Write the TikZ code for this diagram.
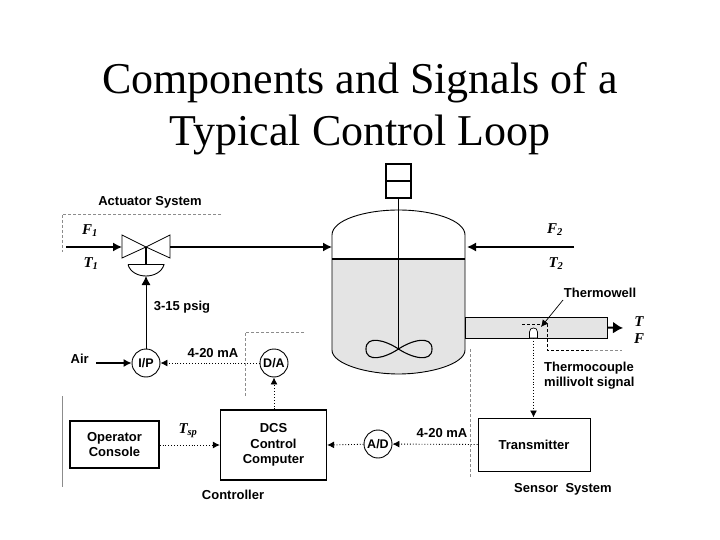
\documentclass[tikz,border=0pt]{standalone}
\usepackage{fontspec}
\setmainfont{Liberation Serif}
\setsansfont{Liberation Sans}
\definecolor{liquidgray}{HTML}{E4E4E4}
\definecolor{zonegray}{HTML}{8C8C8C}
\usetikzlibrary{arrows.meta,positioning,calc}

\begin{document}
\begin{tikzpicture}[
  x=1pt, y=-1pt,
  titletext/.style={font=\fontsize{44}{52}\selectfont, align=center},
  tag/.style={font=\fontsize{13}{15}\selectfont\sffamily\bfseries, align=center, inner sep=0pt},
  var/.style={font=\fontsize{15}{16}\selectfont\bfseries\itshape, inner sep=0pt},
  blockbox/.style={rectangle, draw, line width=1.3pt, align=center, inner sep=0pt, font=\fontsize{13}{15.5}\selectfont\sffamily\bfseries},
  convcircle/.style={circle, draw, line width=0.9pt, minimum size=28pt, inner sep=0pt, font=\fontsize{12.5}{14}\selectfont\sffamily\bfseries},
  flowline/.style={line width=1.4pt, -{Latex[length=9pt,width=9pt]}},
  signalline/.style={line width=0.9pt, dotted, -{Latex[length=7pt,width=7pt]}},
  zoneline/.style={zonegray, line width=0.6pt, densely dashed},
]
\useasboundingbox (0,0) rectangle (720,540);
\node[titletext] (title) at (360,109) {Components and Signals of a\\Typical Control Loop};

% vessel
\fill[liquidgray] (332,259) -- (465,259) -- (465,350) .. controls (465,364) and (430,374) .. (398.5,374) .. controls (367,374) and (332,364) .. (332,350) -- cycle;
\draw[line width=0.9pt] (332,350) -- (332,235) .. controls (332,220) and (365,210) .. (398.5,210) .. controls (432,210) and (465,220) .. (465,235) -- (465,350) .. controls (465,364) and (430,374) .. (398.5,374) .. controls (367,374) and (332,364) .. (332,350) -- cycle;
\draw[line width=1.3pt] (332,259) -- (465,259);

% agitator
\node[rectangle, draw, line width=1.3pt, minimum width=25pt, minimum height=34pt, inner sep=0pt] (motor) at (398.5,181) {};
\draw[line width=1.3pt] (motor.west) -- (motor.east);
\coordinate (hub) at (398.5,349);
\draw[line width=0.7pt] (motor.south) -- (hub);
\draw[line width=1.1pt] (hub) .. controls (385,340) and (366,335) .. (366,349) .. controls (366,363) and (385,358) .. (hub) .. controls (412,340) and (432,335) .. (432,349) .. controls (432,363) and (412,358) .. (hub);

% valve and actuator
\coordinate (valve) at (146,247);
\draw[line width=0.8pt, fill=white] (valve) -- (122,235) -- (122,258) -- cycle;
\draw[line width=0.8pt, fill=white] (valve) -- (170,235) -- (170,258) -- cycle;
\coordinate (diaphragm) at (146,264.5);
\draw[line width=1.3pt] (valve) -- (diaphragm);
\draw[line width=0.9pt] (128,264.5) -- (164,264.5) .. controls (162,272) and (154,276) .. (146,276) .. controls (138,276) and (130,272) .. (128,264.5);
\coordinate (diaphragmb) at (146,276);

% streams
\coordinate (feedin) at (66,247);
\coordinate (valveleft) at (122,247);
\coordinate (valveright) at (170,247);
\coordinate (vesselin) at (332,247);
\coordinate (recyclein) at (574,247);
\coordinate (vesselright) at (467,247);
\draw[flowline] (feedin) -- (valveleft);
\draw[flowline] (valveright) -- (vesselin);
\draw[flowline] (recyclein) -- (vesselright);
\node[var] (fa) at (90,231) {F\textsubscript{1}};
\node[var] (ta) at (91,264) {T\textsubscript{1}};
\node[var] (fb) at (555,230) {F\textsubscript{2}};
\node[var] (tb) at (556,264) {T\textsubscript{2}};

% outlet pipe and thermowell
\node[rectangle, draw, line width=0.9pt, fill=liquidgray, minimum width=142pt, minimum height=21pt, inner sep=0pt] (pipe) at (536,327.5) {};
\coordinate (outlet) at (623,328);
\draw[line width=2pt, -{Latex[length=10pt,width=12pt]}] (pipe.east) -- (outlet);
\node[var] (tout) at (639,322) {T};
\node[var] (fout) at (639,339) {F};
\draw[line width=0.7pt, fill=white] (529.5,338) -- (529.5,332) .. controls (529.5,329) and (531.5,328) .. (533.5,328) .. controls (535.5,328) and (537.5,329) .. (537.5,332) -- (537.5,338) -- cycle;
\coordinate (well) at (533.5,338);
\draw[line width=0.7pt, densely dashed] (522,324) -- (547,324) -- (547,350) -- (590,350);
\draw[line width=0.7pt, zonegray, densely dashed] (590,350) -- (622,350);
\node[tag] (wellname) at (600,293) {Thermowell};
\coordinate (welltip) at (541,327);
\draw[line width=0.7pt, -{Latex[length=7pt,width=7pt]}] (563,300) -- (welltip);
\node[tag, align=left, anchor=north west] (tclabel) at (544,362) {Thermocouple\\millivolt signal};

% signal chain
\node[convcircle] (ip) at (146,363) {I/P};
\node[convcircle] (da) at (274,363) {D/A};
\node[convcircle] (ad) at (378,444) {A/D};
\node[blockbox, minimum width=106pt, minimum height=70pt] (dcs) at (273.5,445) {DCS\\Control\\Computer};
\node[blockbox, minimum width=89pt, minimum height=47pt] (console) at (114.5,444.5) {Operator\\Console};
\node[blockbox, line width=1pt, minimum width=112pt, minimum height=53pt] (trans) at (534,444.5) {Transmitter};
\node[tag, anchor=east] (air) at (89,359) {Air};
\coordinate (airin) at (96,363);
\draw[line width=1.2pt, -{Latex[length=8pt,width=8pt]}] (airin) -- (ip);
\draw[line width=0.9pt, -{Latex[length=9pt,width=9pt]}] (ip) -- (diaphragmb);
\draw[signalline] (da) -- (ip);
\draw[signalline] (dcs.north -| da) -- (da);
\draw[signalline] (console.east |- dcs.west) -- (dcs.west);
\draw[signalline] (ad) -- (dcs.east);
\draw[signalline] (trans.west) -- (ad);
\draw[signalline] (well) -- (trans.north -| well);

% zone borders
\draw[zoneline] (221,214) -- (62,214) -- (62,252);
\draw[zoneline] (304,332) -- (245,332) -- (245,396);
\draw[zonegray, line width=0.7pt] (62,396) -- (62,487);
\draw[zoneline] (470,349) -- (470,477);

% labels
\node[tag] (actuator) at (150,202) {Actuator System};
\node[tag] (psig) at (182,307) {3-15 psig};
\node[tag] (mafirst) at (213,353) {4-20 mA};
\node[tag] (masecond) at (442,433) {4-20 mA};
\node[var] (tsp) at (188,431) {T\textsubscript{sp}};
\node[tag] (controller) at (233,495) {Controller};
\node[tag] (sensor) at (563,489) {Sensor\ \ System};
\end{tikzpicture}
\end{document}
